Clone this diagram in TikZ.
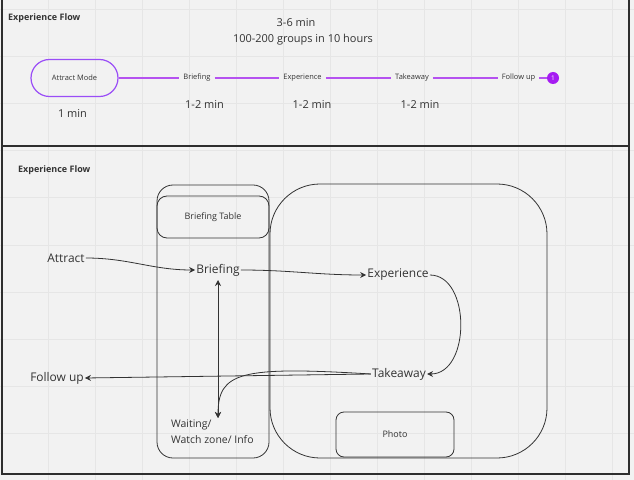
\documentclass[tikz,border=0pt]{standalone}
\usepackage{fontspec}
\setmainfont{Open Sans}
\usetikzlibrary{arrows.meta,positioning}
\definecolor{ink}{HTML}{333333}
\definecolor{paper}{HTML}{F2F2F2}
\definecolor{gridc}{HTML}{E6E6E6}
\definecolor{violet}{HTML}{9A4DF7}
\definecolor{lilac}{HTML}{B552F0}
\definecolor{dotc}{HTML}{A61CF2}

\tikzset{
  lbl/.style={text=ink,inner sep=1bp,font=\fontsize{12}{14}\selectfont},
  tl/.style={text=ink,inner sep=4bp,font=\fontsize{7.5}{9}\selectfont},
  dur/.style={text=ink,font=\fontsize{11}{13}\selectfont},
  head/.style={text=ink,anchor=west,inner sep=0pt,font=\bfseries\fontsize{9}{11}\selectfont},
  box/.style={draw=ink,line width=0.8bp,inner sep=0pt,text=ink,font=\fontsize{9}{11}\selectfont},
  flow/.style={draw=ink,line width=0.8bp,-{Stealth[length=6bp,width=6bp]}},
  twoway/.style={draw=ink,line width=0.8bp,{Stealth[length=6bp,width=6bp]}-{Stealth[length=6bp,width=6bp]}},
}

\begin{document}
\begin{tikzpicture}[x=1bp,y=-1bp]
  \useasboundingbox (0,0) rectangle (634,480);
  \fill[paper] (0,0) rectangle (634,480);
  % grid
  \foreach \gx in {48,95,...,620} \draw[gridc,line width=1bp] (\gx,0)--(\gx,480);
  \foreach \gy in {10,57,...,480} \draw[gridc,line width=1bp] (0,\gy)--(634,\gy);
  % panels
  \draw[ink!90!black,line width=1.5bp] (2,-2) rectangle (629,474);
  \draw[ink!90!black,line width=2.5bp] (2,146)--(629,146);

  % top: timeline
  \node[head] (title1) at (8,18) {Experience Flow};
  \node[dur] (total) at (296,23) {3-6 min};
  \node[dur] (groups) at (303,40) {100-200 groups in 10 hours};
  \node[draw=violet,line width=1.2bp,rounded corners=18.5bp,minimum width=87bp,minimum height=37bp,
        text=ink,font=\fontsize{7.5}{9}\selectfont] (amode) at (74.5,78) {Attract Mode};
  \node[tl] (tbrief) at (197,78) {Briefing};
  \node[tl] (texper) at (302.5,78) {Experience};
  \node[tl] (ttake) at (412,78) {Takeaway};
  \node[tl] (tfollow) at (518.5,78) {Follow up};
  \node[circle,fill=dotc,minimum size=12bp,inner sep=0pt,text=white,
        font=\fontsize{6.5}{6.5}\selectfont] (tdot) at (553,78) {1};
  \draw[lilac,line width=1.3bp] (amode) -- (tbrief) -- (texper) -- (ttake) -- (tfollow) -- (tdot);
  \node[dur] (d1) at (72.5,113) {1 min};
  \node[dur] (d2) at (204.5,104) {1-2 min};
  \node[dur] (d3) at (312,104) {1-2 min};
  \node[dur] (d4) at (420,104) {1-2 min};

  % bottom: floor plan
  \node[head] (title2) at (18,170) {Experience Flow};
  \node[box,rounded corners=50bp,minimum width=277bp,minimum height=274bp] (room) at (408.5,321) {};
  \node[box,rounded corners=16bp,minimum width=112bp,minimum height=273bp] (lane) at (213,321.5) {};
  \node[box,rounded corners=10bp,minimum width=112bp,minimum height=42bp] (table) at (213,217) {Briefing Table};
  \node[box,rounded corners=8bp,minimum width=118bp,minimum height=45bp] (photo) at (395,434.5) {Photo};

  \node[lbl] (attract) at (66,258) {Attract};
  \node[lbl] (brief) at (218,270) {Briefing};
  \node[lbl] (exper) at (398,275) {Experience};
  \node[lbl] (take) at (399,374) {Takeaway};
  \node[lbl] (follow) at (57,378) {Follow up};
  \node[text=ink,align=left,anchor=north west,inner sep=0pt,
        font=\fontsize{10.5}{16}\selectfont] (wait) at (171,420) {Waiting/\\Watch zone/ Info};
  \coordinate (btip) at (218,280);
  \coordinate (wtip) at (218,418);

  \draw[flow] (attract.east) to[out=0,in=180] (brief.west);
  \draw[flow] (brief.east) to[out=0,in=180] (exper.west);
  \draw[flow] (exper.east) .. controls (471,275) and (471,374) .. (take.east);
  \draw[flow] (take.west) -- (follow.east);
  \draw[flow] (take.west) .. controls (240,366) and (218,372) .. (wtip);
  \draw[twoway] (btip) -- (wtip);
\end{tikzpicture}
\end{document}
